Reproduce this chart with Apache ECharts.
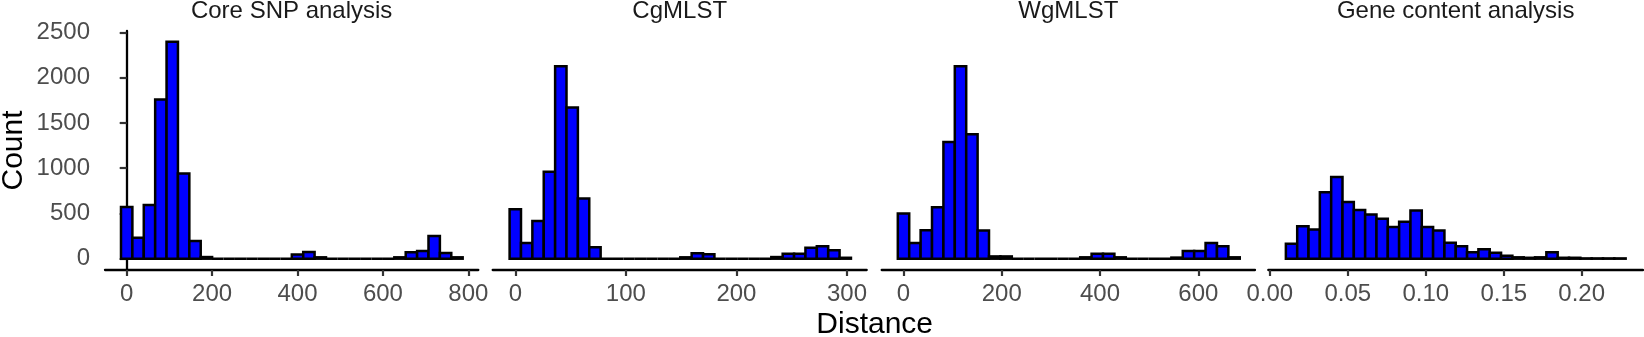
<!DOCTYPE html>
<html>
<head>
<meta charset="utf-8">
<script src="https://cdn.jsdelivr.net/npm/echarts@6/dist/echarts.min.js"></script>
<style>
html,body{margin:0;padding:0;background:#fff;}
#chart{width:1644px;height:337px;}
</style>
</head>
<body>
<div id="chart"></div>
<script>
// ---- Data ----
const panelTitles = ['Core SNP analysis', 'CgMLST', 'WgMLST', 'Gene content analysis'];

// histogram bins: first bin centre and bin width per panel
const coreFirstCenter = 0,       coreBinWidth = 26.67;
const cgFirstCenter = 0,         cgBinWidth = 10.29;
const wgFirstCenter = 0,         wgBinWidth = 23.2;
const geneFirstCenter = 0.01394, geneBinWidth = 0.007262;

const coreCounts = [571, 232, 594, 1759, 2397, 940, 195, 18, 0, 0, 0, 0, 0, 0, 0,
                    45, 74, 15, 0, 0, 0, 0, 0, 0, 15, 70, 85, 250, 63, 15];
const cgCounts   = [546, 173, 417, 959, 2127, 1670, 664, 125, 0, 0, 0, 0, 0, 0, 0,
                    15, 59, 48, 0, 0, 0, 0, 0, 18, 55, 55, 122, 136, 92, 10];
const wgCounts   = [498, 173, 313, 568, 1290, 2127, 1375, 310, 25, 25, 0, 0, 0, 0, 0,
                    0, 15, 55, 55, 15, 0, 0, 0, 0, 12, 85, 85, 173, 136, 15];
const geneCounts = [166, 358, 321, 734, 903, 627, 538, 487, 442, 350, 409, 531, 350, 310, 177,
                    136, 70, 103, 66, 33, 15, 10, 15, 70, 10, 10, 3, 3, 3, 3];

const coreTicks = [0, 200, 400, 600, 800];
const cgTicks   = [0, 100, 200, 300];
const wgTicks   = [0, 200, 400, 600];
const geneTicks = [0, 0.05, 0.10, 0.15, 0.20];
const countTicks = [0, 500, 1000, 1500, 2000, 2500];

const xTitle = 'Distance';
const yTitle = 'Count';

// ---- Layout / styles ----
const panels = [
  {counts: coreCounts, c0: coreFirstCenter, w: coreBinWidth, ticks: coreTicks, min: -50.8, max: 823.4, left: 105, width: 373.3, fmt: v => String(v)},
  {counts: cgCounts, c0: cgFirstCenter, w: cgBinWidth, ticks: cgTicks, min: -20.44, max: 317.8, left: 492.7, width: 374, fmt: v => String(v)},
  {counts: wgCounts, c0: wgFirstCenter, w: wgBinWidth, ticks: wgTicks, min: -44.4, max: 715.4, left: 881.7, width: 373.3, fmt: v => String(v)},
  {counts: geneCounts, c0: geneFirstCenter, w: geneBinWidth, ticks: geneTicks, min: -0.00096, max: 0.2393, left: 1268.3, width: 374.7, fmt: v => v.toFixed(2)}
];

const FONT = '"Liberation Sans", Arial, sans-serif';
const gridTop = 31, gridHeight = 239;
const yMin = -125, yMax = 2515;

const grids = [], xAxes = [], yAxes = [], series = [], graphics = [];

panels.forEach((p, i) => {
  grids.push({left: p.left, top: gridTop, width: p.width, height: gridHeight, containLabel: false});
  xAxes.push({
    type: 'value', gridIndex: i, min: p.min, max: p.max,
    axisLine: {show: true, onZero: false, lineStyle: {color: '#000', width: 2.3}},
    axisTick: {show: true, length: 6, lineStyle: {color: '#333', width: 2.2}, customValues: p.ticks},
    axisLabel: {show: true, customValues: p.ticks, formatter: p.fmt, color: '#4D4D4D', fontSize: 24, fontFamily: FONT, margin: 12},
    splitLine: {show: false}
  });
  yAxes.push({
    type: 'value', gridIndex: i, min: yMin, max: yMax, show: i === 0,
    axisLine: {show: i === 0, lineStyle: {color: '#000', width: 2.3}},
    axisTick: {show: i === 0, length: 7, lineStyle: {color: '#333', width: 2.2}, customValues: countTicks},
    axisLabel: {show: i === 0, customValues: countTicks, formatter: v => String(v), color: '#4D4D4D', fontSize: 24, fontFamily: FONT, margin: 15},
    splitLine: {show: false}
  });
  const data = p.counts.map((c, k) => [p.c0 + k * p.w, c]);
  series.push({
    type: 'custom', xAxisIndex: i, yAxisIndex: i, data: data,
    encode: {x: 0, y: 1},
    clip: false,
    renderItem: (params, api) => {
      const xc = api.value(0), v = api.value(1);
      const tl = api.coord([xc - p.w / 2, v]);
      const br = api.coord([xc + p.w / 2, 0]);
      return {
        type: 'rect',
        shape: {x: tl[0], y: tl[1], width: br[0] - tl[0], height: br[1] - tl[1]},
        style: {fill: '#0000FF', stroke: '#000', lineWidth: 2.5}
      };
    }
  });
  graphics.push({
    type: 'text', x: p.left + p.width / 2, y: 11,
    style: {text: panelTitles[i], fontSize: 24, fontFamily: FONT, fill: '#1A1A1A', align: 'center', verticalAlign: 'middle'}
  });
});

graphics.push({
  type: 'text', x: 874.7, y: 325,
  style: {text: xTitle, fontSize: 30, fontFamily: FONT, fill: '#000', align: 'center', verticalAlign: 'middle'}
});
graphics.push({
  type: 'text', x: 14, y: 150.5, rotation: Math.PI / 2,
  style: {text: yTitle, fontSize: 30, fontFamily: FONT, fill: '#000', align: 'center', verticalAlign: 'middle'}
});

const chart = echarts.init(document.getElementById('chart'), null, {renderer: 'canvas'});
chart.setOption({
  animation: false,
  backgroundColor: '#fff',
  grid: grids,
  xAxis: xAxes,
  yAxis: yAxes,
  series: series,
  graphic: graphics
});
</script>
</body>
</html>
